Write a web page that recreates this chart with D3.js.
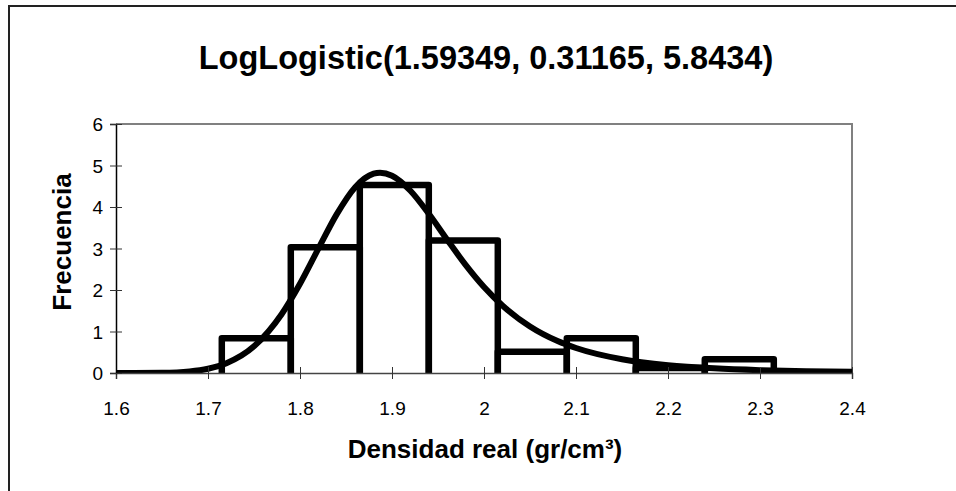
<!DOCTYPE html>
<html>
<head>
<meta charset="utf-8">
<script src="https://cdn.jsdelivr.net/npm/d3@7"></script>
<style>
  html, body { margin: 0; padding: 0; background: #fff; }
  svg { display: block; }
  text { font-family: "Liberation Sans", Arial, sans-serif; fill: #000; }
</style>
</head>
<body>
<svg id="chart" width="956" height="491"></svg>
<script>
// ---- data ----
const titleText = "LogLogistic(1.59349, 0.31165, 5.8434)";
const xLabel = "Densidad real (gr/cm³)";
const yLabel = "Frecuencia";
const xTicks = [1.6, 1.7, 1.8, 1.9, 2.0, 2.1, 2.2, 2.3, 2.4];
const yTicks = [0, 1, 2, 3, 4, 5, 6];
const binEdges = [1.715, 1.79, 1.865, 1.94, 2.015, 2.09, 2.165, 2.24, 2.315];
const binHeights = [0.835, 3.03, 4.53, 3.19, 0.51, 0.835, 0.12, 0.33];
const curveX = [1.60, 1.62, 1.65, 1.68, 1.70, 1.72, 1.75, 1.78, 1.80, 1.82, 1.84, 1.86, 1.88, 1.887, 1.90, 1.92, 1.94, 1.96, 1.98, 2.00, 2.02, 2.05, 2.08, 2.10, 2.15, 2.20, 2.25, 2.30, 2.35, 2.40];
const curveY = [0.00, 0.0001, 0.005, 0.038, 0.103, 0.236, 0.644, 1.415, 2.149, 2.997, 3.829, 4.478, 4.803, 4.827, 4.755, 4.392, 3.836, 3.210, 2.606, 2.072, 1.628, 1.122, 0.771, 0.603, 0.332, 0.189, 0.112, 0.068, 0.043, 0.028];

// ---- layout ----
const svg = d3.select("#chart");
const L = 116, R = 852, T = 124, B = 373;
const x = d3.scaleLinear().domain([1.6, 2.4]).range([L, R]);
const y = d3.scaleLinear().domain([0, 6]).range([B, T]);

// outer chart border (only top/left visible)
svg.append("rect").attr("x", 9).attr("y", 6).attr("width", 1000).attr("height", 600)
  .attr("fill", "none").attr("stroke", "#222").attr("stroke-width", 2);

// plot frame (grey top/right)
svg.append("path")
  .attr("d", `M${L},${T}H${R}V${B}`)
  .attr("fill", "none").attr("stroke", "#808080").attr("stroke-width", 2);

// clip
svg.append("clipPath").attr("id", "clip")
  .append("rect").attr("x", L).attr("y", T - 4).attr("width", R - L).attr("height", B - T + 5);

const g = svg.append("g").attr("clip-path", "url(#clip)");

// bars as outlines (no bottom)
binHeights.forEach((h, i) => {
  const x0 = x(binEdges[i]), x1 = x(binEdges[i + 1]), yt = y(h), y0 = y(0);
  g.append("path")
    .attr("d", `M${x0},${y0}V${yt}H${x1}V${y0}`)
    .attr("fill", "none").attr("stroke", "#000").attr("stroke-width", 6.5)
    .attr("stroke-linejoin", "round");
});

// curve
const pts = curveX.map((v, i) => [v, curveY[i]]);
g.append("path")
  .datum(pts)
  .attr("d", d3.line().x(d => x(d[0])).y(d => y(d[1])).curve(d3.curveMonotoneX))
  .attr("fill", "none").attr("stroke", "#000").attr("stroke-width", 6)
  .attr("stroke-linejoin", "round");

// axes
const xAxis = d3.axisBottom(x).tickValues(xTicks).tickSize(6).tickFormat(d3.format("~g"));
const xg = svg.append("g").attr("transform", `translate(0,${B})`).call(xAxis);
xg.select(".domain").attr("stroke", "#444").attr("stroke-width", 1.5);
xg.selectAll(".tick line").attr("y1", -6).attr("y2", 6).attr("stroke", "#333");
xg.selectAll(".tick text").attr("y", 0).attr("dy", 0).attr("transform", "translate(0,42)")
  .style("font-size", "19px").style("font-family", "Liberation Sans, Arial, sans-serif").attr("fill", "#000");

const yAxis = d3.axisLeft(y).tickValues(yTicks).tickSize(6).tickFormat(d3.format("d"));
const yg = svg.append("g").attr("transform", `translate(${L},0)`).call(yAxis);
yg.select(".domain").attr("stroke", "#000").attr("stroke-width", 1.5);
yg.selectAll(".tick line").attr("x1", -6).attr("x2", 6).attr("stroke", "#333");
yg.selectAll(".tick text").attr("x", -13).attr("dy", "0.35em")
  .style("font-size", "19px").style("font-family", "Liberation Sans, Arial, sans-serif").attr("fill", "#000");

// titles
svg.append("text").attr("x", 486).attr("y", 69).attr("text-anchor", "middle")
  .style("font-size", "32.5px").style("font-weight", "bold").text(titleText);
svg.append("text").attr("x", 485).attr("y", 458).attr("text-anchor", "middle")
  .style("font-size", "26px").style("font-weight", "bold").text(xLabel);
svg.append("text").attr("transform", "translate(71,242) rotate(-90)").attr("text-anchor", "middle")
  .style("font-size", "26px").style("font-weight", "bold").text(yLabel);
</script>
</body>
</html>
